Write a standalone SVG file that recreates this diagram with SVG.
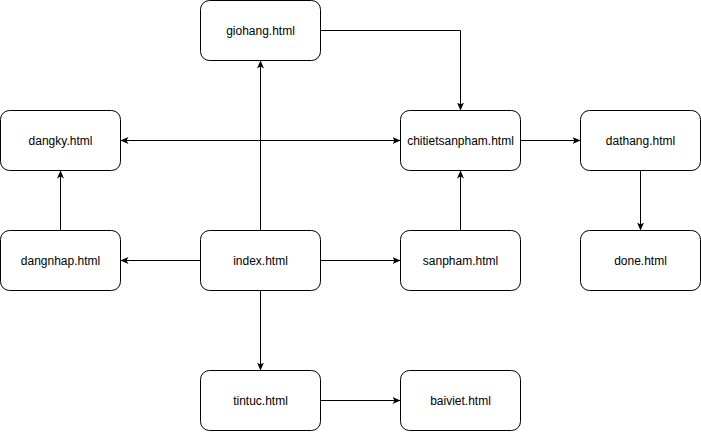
<svg xmlns="http://www.w3.org/2000/svg" width="701" height="432" viewBox="0 0 701 432">
<style>
.node rect{fill:#ffffff;stroke:#000000;stroke-width:1}
.node text{font-family:"Liberation Sans",Arial,sans-serif;font-size:12px;fill:#000000;text-anchor:middle}
.edges path{fill:none;stroke:#000000;stroke-width:1}
</style>
<defs>
<marker id="arr" markerUnits="userSpaceOnUse" viewBox="0 0 8 8" refX="8" refY="4" markerWidth="8" markerHeight="8" orient="auto-start-reverse">
<path d="M0,0.5 L8,4 L0,7.5 L2,4 Z" fill="#000000"/>
</marker>
</defs>
<rect width="701" height="432" fill="#ffffff"/>
<g class="edges">
<path d="M260.5,230.5 L260.5,60.5" marker-end="url(#arr)"/>
<path d="M320.5,30.5 L460.5,30.5 L460.5,110.5" marker-end="url(#arr)"/>
<path d="M120.5,140.5 L400.5,140.5" marker-start="url(#arr)" marker-end="url(#arr)"/>
<path d="M60.5,230.5 L60.5,170.5" marker-end="url(#arr)"/>
<path d="M200.5,260.5 L120.5,260.5" marker-end="url(#arr)"/>
<path d="M320.5,260.5 L400.5,260.5" marker-end="url(#arr)"/>
<path d="M460.5,230.5 L460.5,170.5" marker-end="url(#arr)"/>
<path d="M520.5,140.5 L580.5,140.5" marker-end="url(#arr)"/>
<path d="M640.5,170.5 L640.5,230.5" marker-end="url(#arr)"/>
<path d="M260.5,290.5 L260.5,370.5" marker-end="url(#arr)"/>
<path d="M320.5,400.5 L400.5,400.5" marker-end="url(#arr)"/>
</g>
<g id="giohang" class="node"><rect x="200.5" y="0.5" width="120" height="60" rx="9"/><text x="260.5" y="34.5">giohang.html</text></g>
<g id="dangky" class="node"><rect x="0.5" y="110.5" width="120" height="60" rx="9"/><text x="60.5" y="144.5">dangky.html</text></g>
<g id="chitietsanpham" class="node"><rect x="400.5" y="110.5" width="120" height="60" rx="9"/><text x="460.5" y="144.5">chitietsanpham.html</text></g>
<g id="dathang" class="node"><rect x="580.5" y="110.5" width="120" height="60" rx="9"/><text x="640.5" y="144.5">dathang.html</text></g>
<g id="dangnhap" class="node"><rect x="0.5" y="230.5" width="120" height="60" rx="9"/><text x="60.5" y="264.5">dangnhap.html</text></g>
<g id="index" class="node"><rect x="200.5" y="230.5" width="120" height="60" rx="9"/><text x="260.5" y="264.5">index.html</text></g>
<g id="sanpham" class="node"><rect x="400.5" y="230.5" width="120" height="60" rx="9"/><text x="460.5" y="264.5">sanpham.html</text></g>
<g id="done" class="node"><rect x="580.5" y="230.5" width="120" height="60" rx="9"/><text x="640.5" y="264.5">done.html</text></g>
<g id="tintuc" class="node"><rect x="200.5" y="370.5" width="120" height="60" rx="9"/><text x="260.5" y="404.5">tintuc.html</text></g>
<g id="baiviet" class="node"><rect x="400.5" y="370.5" width="120" height="60" rx="9"/><text x="460.5" y="404.5">baiviet.html</text></g>
</svg>
